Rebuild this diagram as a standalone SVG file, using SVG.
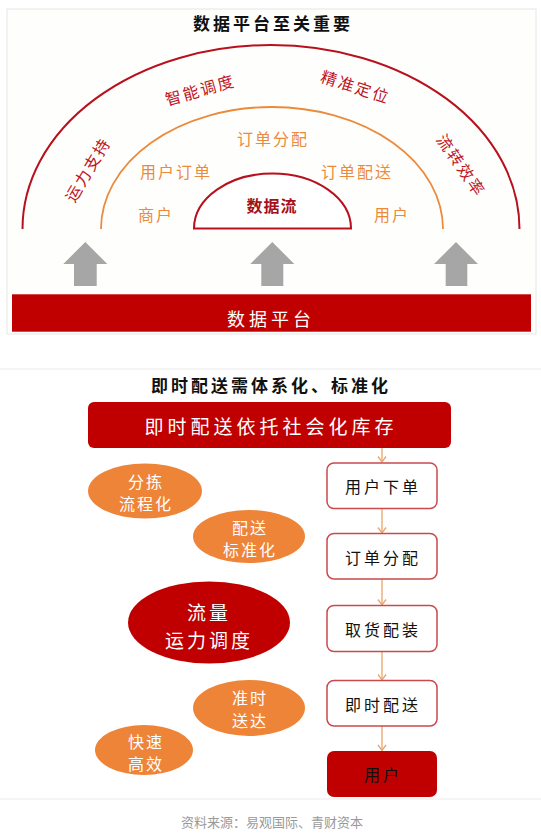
<svg xmlns="http://www.w3.org/2000/svg" width="541" height="836" viewBox="0 0 541 836">
<defs>
<style>
text{font-family:"Noto Sans CJK SC","Liberation Sans",sans-serif;text-anchor:middle;dominant-baseline:central}
.title{font-size:17px;font-weight:bold;fill:#111;letter-spacing:3px}
.outer{font-size:16px;fill:#c0141e;letter-spacing:2px}
.mid{font-size:16px;fill:#ec8a3c;letter-spacing:2px}
.wt{fill:#fff}
.box{fill:#fff;stroke:#c9494c;stroke-width:1.5}
.boxt{font-size:16px;fill:#111;letter-spacing:3px}
.ell{fill:#ee8437}
.ellt{font-size:16px;fill:#fff;letter-spacing:2px}
.garrow{fill:#a6a6a6}
.conn{stroke:#eba56a;stroke-width:1.3;fill:none}
</style>
<marker id="ah" markerWidth="10" markerHeight="10" refX="8.5" refY="5" orient="auto" markerUnits="userSpaceOnUse" viewBox="0 0 10 10">
<path d="M3,1 L8.5,5 L3,9" fill="none" stroke="#eba56a" stroke-width="1.3"/>
</marker>
</defs>
<rect width="541" height="836" fill="#fff"/>
<!-- top panel -->
<g id="top-panel">
<rect x="7" y="9" width="529" height="325" fill="#fefffd" stroke="#e6e6e6" stroke-width="1"/>
<text class="title" x="273" y="22">数据平台至关重要</text>
</g>
<g id="outer-arc">
<path d="M22.5,229 A248.5,184 0 0 1 519.5,229" fill="none" stroke="#b8101c" stroke-width="2"/>
<text class="outer" transform="translate(200,89) rotate(-16)" x="0" y="0">智能调度</text>
<text class="outer" transform="translate(356,86) rotate(18)" x="0" y="0">精准定位</text>
<text class="outer" transform="translate(87,169) rotate(-59)" x="0" y="0">运力支持</text>
<text class="outer" transform="translate(462,165) rotate(55)" x="0" y="0">流转效率</text>
</g>
<g id="mid-arc">
<path d="M101,229 A171,122 0 0 1 443,229" fill="none" stroke="#ec8a3c" stroke-width="1.8"/>
<text class="mid" x="273" y="138">订单分配</text>
<text class="mid" x="176" y="171">用户订单</text>
<text class="mid" x="357" y="171">订单配送</text>
<text class="mid" x="156" y="214">商户</text>
<text class="mid" x="392" y="214">用户</text>
</g>
<g id="data-flow">
<path d="M194,228.5 A78.5,55 0 0 1 351,228.5 Z" fill="#fff" stroke="#b8101c" stroke-width="2"/>
<text x="272" y="205" style="font-size:16px;font-weight:bold;fill:#a3101a;letter-spacing:1px">数据流</text>
</g>
<g id="up-arrows">
<path class="garrow" d="M85.3,242 L107.3,264 L96.7,264 L96.7,286 L74,286 L74,264 L63.3,264 Z"/>
<path class="garrow" d="M272.3,242 L294.3,264 L283.3,264 L283.3,286 L261.3,286 L261.3,264 L250.3,264 Z"/>
<path class="garrow" d="M456,242 L478,264 L467.3,264 L467.3,286 L445.7,286 L445.7,264 L434,264 Z"/>
</g>
<g id="data-platform">
<rect x="12" y="294.3" width="519" height="37.4" fill="#c00000"/>
<text x="271" y="318" style="font-size:18px;fill:#fff;letter-spacing:4px">数据平台</text>
</g>
<line x1="0" y1="369" x2="541" y2="369" stroke="#ebebeb" stroke-width="1"/>
<!-- bottom panel -->
<g id="bottom-title">
<text class="title" x="271" y="384">即时配送需体系化、标准化</text>
</g>
<g id="inventory">
<rect x="88" y="402" width="363" height="46" rx="6" fill="#c00000"/>
<text x="271" y="425" style="font-size:19px;fill:#fff;letter-spacing:4px">即时配送依托社会化库存</text>
</g>
<g id="connectors">
<line class="conn" x1="382" y1="448" x2="382" y2="462" marker-end="url(#ah)"/>
<line class="conn" x1="382" y1="508.5" x2="382" y2="533" marker-end="url(#ah)"/>
<line class="conn" x1="382" y1="579" x2="382" y2="605" marker-end="url(#ah)"/>
<line class="conn" x1="382" y1="651.5" x2="382" y2="680" marker-end="url(#ah)"/>
<line class="conn" x1="382" y1="726" x2="382" y2="750.5" marker-end="url(#ah)"/>
</g>
<g id="step-1">
<rect class="box" x="327" y="463" width="110" height="45.5" rx="7"/>
<text class="boxt" x="383" y="486">用户下单</text>
</g>
<g id="step-2">
<rect class="box" x="327" y="533.5" width="110" height="45.5" rx="7"/>
<text class="boxt" x="383" y="556.5">订单分配</text>
</g>
<g id="step-3">
<rect class="box" x="327" y="605.5" width="110" height="46" rx="7"/>
<text class="boxt" x="383" y="628.5">取货配装</text>
</g>
<g id="step-4">
<rect class="box" x="327" y="680.5" width="110" height="45.5" rx="7"/>
<text class="boxt" x="383" y="703.5">即时配送</text>
</g>
<g id="step-5">
<rect x="327" y="751" width="110" height="46" rx="7" fill="#c00000"/>
<text class="boxt wt" x="383" y="774">用户</text>
</g>
<g id="ell-sorting">
<ellipse class="ell" cx="145" cy="491" rx="57" ry="27.5"/>
<text class="ellt" x="146" y="481">分拣</text>
<text class="ellt" x="146" y="503">流程化</text>
</g>
<g id="ell-standard">
<ellipse class="ell" cx="249" cy="536.5" rx="56" ry="26.5"/>
<text class="ellt" x="250" y="527">配送</text>
<text class="ellt" x="250" y="549">标准化</text>
</g>
<g id="ell-dispatch">
<ellipse cx="209" cy="622.5" rx="81" ry="41" fill="#c00000"/>
<text x="209" y="611" style="font-size:19px;fill:#fff;letter-spacing:3px">流量</text>
<text x="209" y="639" style="font-size:19px;fill:#fff;letter-spacing:3px">运力调度</text>
</g>
<g id="ell-ontime">
<ellipse class="ell" cx="249" cy="708" rx="56" ry="28"/>
<text class="ellt" x="250" y="697">准时</text>
<text class="ellt" x="250" y="720">送达</text>
</g>
<g id="ell-fast">
<ellipse class="ell" cx="144" cy="750" rx="49" ry="25"/>
<text class="ellt" x="146" y="741">快速</text>
<text class="ellt" x="146" y="763">高效</text>
</g>
<line x1="0" y1="799" x2="541" y2="799" stroke="#ebebeb" stroke-width="1"/>
<g id="source">
<text x="272" y="821" style="font-size:13px;fill:#9a9a9a">资料来源：易观国际、青财资本</text>
</g>
</svg>
